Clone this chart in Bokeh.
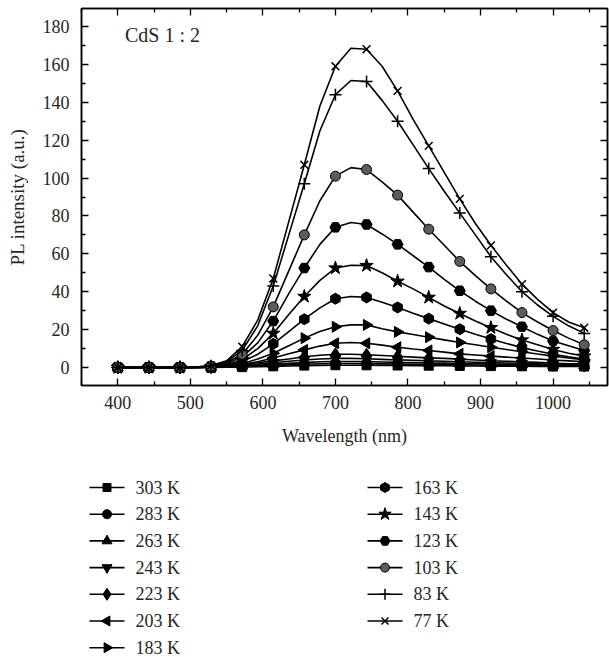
import math
from bokeh.plotting import figure
from bokeh.layouts import column
from bokeh.models import Range1d, LinearAxis, FixedTicker, CustomLabelingPolicy
from bokeh.embed import file_html
from bokeh.resources import INLINE
from bokeh.core.properties import value

# ---------------- data ----------------
wavelength = [400.0, 421.4, 442.9, 464.3, 485.7, 507.1, 528.6, 550.0, 571.4, 592.9,
              614.3, 635.7, 657.1, 678.6, 700.0, 721.4, 742.9, 764.3, 785.7, 807.1,
              828.6, 850.0, 871.4, 892.9, 914.3, 935.7, 957.1, 978.6, 1000.0, 1021.4, 1042.9]

pl_303K = [0, 0, 0, 0, 0, 0, 0, 0.1, 0.2, 0.4, 0.6, 0.8, 1.0, 1.1, 1.2, 1.2, 1.15, 1.1, 1.05, 1.0,
           0.95, 0.9, 0.85, 0.8, 0.75, 0.7, 0.65, 0.6, 0.55, 0.5, 0.5]
pl_283K = [0, 0, 0, 0, 0, 0, 0.1, 0.3, 0.5, 0.8, 1.1, 1.4, 1.7, 2.0, 2.1, 2.1, 2.0, 1.9, 1.8, 1.7,
           1.6, 1.5, 1.4, 1.3, 1.2, 1.1, 1.0, 0.9, 0.8, 0.7, 0.7]
pl_263K = [0, 0, 0, 0, 0, 0, 0.1, 0.4, 0.8, 1.2, 1.7, 2.2, 2.6, 3.0, 3.2, 3.2, 3.1, 2.9, 2.7, 2.6,
           2.4, 2.3, 2.1, 2.0, 1.8, 1.7, 1.5, 1.4, 1.2, 1.1, 1.1]
pl_243K = [0, 0, 0, 0, 0, 0, 0.2, 0.6, 1.1, 1.8, 2.5, 3.3, 4.0, 4.5, 4.8, 4.8, 4.6, 4.3, 4.0, 3.8,
           3.5, 3.3, 3.0, 2.8, 2.6, 2.4, 2.2, 2.0, 1.7, 1.5, 1.5]
pl_223K = [0, 0, 0, 0, 0, 0, 0.3, 1.0, 1.7, 2.5, 3.5, 4.5, 5.7, 6.5, 7.0, 7.0, 6.7, 6.3, 5.9, 5.5,
           5.1, 4.8, 4.4, 4.0, 3.6, 3.3, 3.0, 2.7, 2.3, 2.0, 2.0]
pl_203K = [0, 0, 0, 0, 0, 0, 0.1, 0.5, 1.5, 3.0, 5.0, 7.3, 9.3, 11.3, 12.8, 13.2, 12.8, 11.8, 10.7, 9.8,
           9.0, 8.1, 7.2, 6.6, 6.0, 5.5, 5.0, 4.5, 4.0, 3.5, 3.0]
pl_183K = [0, 0, 0, 0, 0, 0, 0.2, 0.8, 2.0, 4.5, 7.5, 11.5, 15.5, 19.0, 21.5, 22.5, 22.5, 20.5, 18.8, 17.4,
           16.0, 14.6, 13.2, 12.0, 10.7, 9.5, 8.3, 7.1, 6.0, 5.0, 4.0]
pl_163K = [0, 0, 0, 0, 0, 0.1, 0.3, 1.2, 3.0, 7.0, 12.5, 19.0, 25.5, 31.5, 36.3, 37.5, 37.0, 34.5, 31.7, 28.7,
           25.8, 23.0, 20.2, 17.5, 15.0, 12.7, 10.5, 8.7, 7.0, 5.7, 4.5]
pl_143K = [0, 0, 0, 0, 0, 0.1, 0.4, 1.5, 4.0, 10.0, 18.0, 28.0, 37.5, 46.0, 52.5, 54.0, 53.8, 50.0, 45.5, 41.5,
           37.0, 32.5, 28.5, 24.5, 21.0, 17.5, 14.5, 12.0, 9.5, 7.5, 6.0]
pl_123K = [0, 0, 0, 0, 0, 0.1, 0.5, 2.0, 5.5, 13.0, 24.5, 39.0, 52.5, 65.0, 74.0, 76.5, 75.5, 70.5, 65.0, 59.0,
           53.0, 46.5, 40.5, 35.0, 30.0, 25.5, 21.5, 17.5, 14.0, 11.5, 9.0]
pl_103K = [0, 0, 0, 0, 0, 0.1, 0.6, 2.5, 7.0, 17.0, 32.0, 51.0, 70.0, 88.0, 101.0, 105.5, 104.5, 98.0, 91.0, 82.0,
           73.0, 64.5, 56.0, 48.5, 41.5, 35.0, 29.0, 24.0, 19.5, 15.5, 12.0]
pl_83K = [0, 0, 0, 0, 0, 0.2, 0.8, 3.0, 9.0, 22.0, 43.0, 70.0, 97.0, 125.0, 144.0, 151.5, 151.0, 141.0, 130.0, 117.5,
          105.0, 93.0, 81.5, 70.0, 58.5, 49.0, 40.0, 33.0, 27.0, 22.0, 18.0]
pl_77K = [0, 0, 0, 0, 0, 0.2, 1.0, 3.5, 11.0, 25.0, 47.0, 77.0, 107.0, 138.0, 159.0, 168.5, 168.0, 159.0, 146.0, 131.0,
          117.0, 103.0, 89.0, 76.0, 64.5, 54.0, 44.0, 36.0, 29.0, 24.0, 21.0]

labels = ["303 K", "283 K", "263 K", "243 K", "223 K", "203 K", "183 K",
          "163 K", "143 K", "123 K", "103 K", "83 K", "77 K"]
series = [pl_303K, pl_283K, pl_263K, pl_243K, pl_223K, pl_203K, pl_183K,
          pl_163K, pl_143K, pl_123K, pl_103K, pl_83K, pl_77K]

x_ticks = [400, 500, 600, 700, 800, 900, 1000]
x_minor = [350, 450, 550, 650, 750, 850, 950, 1050]
y_ticks = [0, 20, 40, 60, 80, 100, 120, 140, 160, 180]
y_minor = [-10, 10, 30, 50, 70, 90, 110, 130, 150, 170]

# ---------------- styles ----------------
SERIF = "Liberation Serif"
TXT = "#262626"
styles = [
    dict(marker="square", size=9, angle=0.0, fill="black"),
    dict(marker="circle", size=10, angle=0.0, fill="black"),
    dict(marker="triangle", size=11, angle=0.0, fill="black"),
    dict(marker="inverted_triangle", size=11, angle=0.0, fill="black"),
    dict(marker="diamond", size=13, angle=0.0, fill="black"),
    dict(marker="triangle", size=11, angle=math.pi / 2, fill="black"),
    dict(marker="triangle", size=11, angle=-math.pi / 2, fill="black"),
    dict(marker="hex", size=11, angle=math.pi / 6, fill="black"),
    dict(marker="star", size=14, angle=0.0, fill="black"),
    dict(marker="hex", size=11, angle=0.0, fill="black"),
    dict(marker="circle", size=10, angle=0.0, fill="#5c5c5c"),
    dict(marker="cross", size=12, angle=0.0, fill="black"),
    dict(marker="x", size=11, angle=0.0, fill="black"),
]

W = 609
MAIN_H = 457
LEG_H = 200

p = figure(width=W, height=MAIN_H, output_backend="svg", toolbar_location=None,
           x_range=Range1d(350, 1075), y_range=Range1d(-9.5, 189.5),
           min_border_left=81, min_border_right=2, min_border_top=8, min_border_bottom=72)
p.background_fill_color = "white"
p.border_fill_color = "white"
p.outline_line_color = "black"
p.outline_line_width = 1.5
p.grid.visible = False


def style_axis(ax, ticker, show_labels=True):
    ax.ticker = ticker
    ax.axis_line_color = "black"
    ax.axis_line_width = 1.5
    ax.major_tick_line_color = "black"
    ax.minor_tick_line_color = "black"
    ax.major_tick_line_width = 1.3
    ax.minor_tick_line_width = 1.3
    ax.major_tick_in = 7
    ax.major_tick_out = 0
    ax.minor_tick_in = 4
    ax.minor_tick_out = 0
    if show_labels:
        ax.major_label_text_font = SERIF
        ax.major_label_text_font_size = "18px"
        ax.major_label_text_color = TXT
        ax.axis_label_text_font = SERIF
        ax.axis_label_text_font_size = "19px"
        ax.axis_label_text_font_style = "normal"
        ax.axis_label_text_color = TXT
    else:
        # mirror axis: ticks only, no labels drawn and no room reserved for them
        ax.major_label_policy = CustomLabelingPolicy(
            code="for (const i of indices) indices.unset(i)")
        ax.major_label_text_font_size = "0px"
        ax.major_label_standoff = 0


xt = FixedTicker(ticks=x_ticks, minor_ticks=x_minor)
yt = FixedTicker(ticks=y_ticks, minor_ticks=y_minor)

style_axis(p.xaxis[0], xt)
style_axis(p.yaxis[0], yt)
p.xaxis[0].axis_label = "Wavelength (nm)"
p.yaxis[0].axis_label = "PL intensity (a.u.)"
p.xaxis[0].axis_label_text_font_size = "18px"
p.xaxis[0].major_label_standoff = 10
p.xaxis[0].axis_label_standoff = 14
p.yaxis[0].major_label_standoff = 12
p.yaxis[0].axis_label_standoff = 12

top_ax = LinearAxis()
style_axis(top_ax, xt, show_labels=False)
p.add_layout(top_ax, "above")
right_ax = LinearAxis()
style_axis(right_ax, yt, show_labels=False)
p.add_layout(right_ax, "right")

for ys, st in zip(series, styles):
    p.line(wavelength, ys, line_color="black", line_width=1.6)
    p.scatter(wavelength[::2], ys[::2], marker=st["marker"], size=st["size"],
              angle=st["angle"], fill_color=st["fill"], line_color="black",
              line_width=1.5 if st["marker"] in ("cross", "x") else 1.0)

p.text(x=[410], y=[175.5], text=["CdS 1 : 2"], text_font=value(SERIF),
       text_font_size="20px", text_color=TXT, text_baseline="middle", text_align="left")

# ---------------- legend panel (pixel-unit figure below the plot) ----------------
leg = figure(width=W, height=LEG_H, output_backend="svg", toolbar_location=None,
             x_range=Range1d(0, 526), y_range=Range1d(0, LEG_H),
             min_border_left=81, min_border_right=2, min_border_top=0, min_border_bottom=0)
leg.axis.visible = False
leg.grid.visible = False
leg.outline_line_color = None
leg.background_fill_color = "white"
leg.border_fill_color = "white"

ROWS = 7
col_x0 = [8, 286]        # start of the legend line sample in each column (px from frame left)
row_y0 = LEG_H - 30      # first row centre (px from bottom)
row_step = 26.7
for i, (lab, st) in enumerate(zip(labels, styles)):
    c, r = divmod(i, ROWS)
    x0 = col_x0[c]
    yy = row_y0 - r * row_step
    leg.line([x0, x0 + 35], [yy, yy], line_color="black", line_width=1.6)
    leg.scatter([x0 + 17.5], [yy], marker=st["marker"], size=st["size"] - 1, angle=st["angle"],
                fill_color=st["fill"], line_color="black",
                line_width=1.5 if st["marker"] in ("cross", "x") else 1.0)
    leg.text(x=[x0 + 46], y=[yy], text=[lab], text_font=value(SERIF), text_font_size="18px",
             text_color=TXT, text_baseline="middle", text_align="left")

layout = column(p, leg, spacing=0)
open("out.html", "w").write(file_html(layout, INLINE))
